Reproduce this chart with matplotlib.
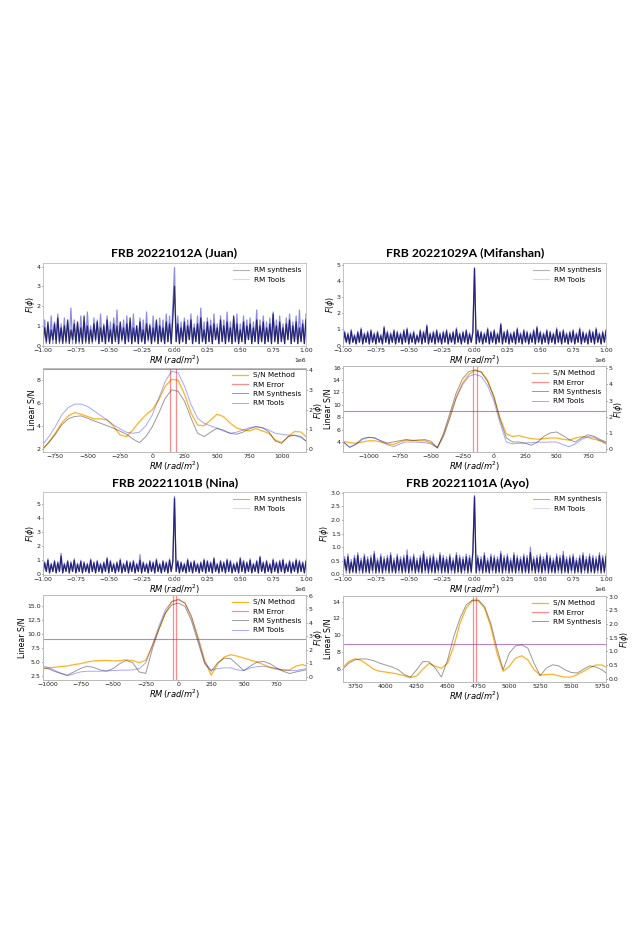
import numpy as np
import matplotlib
matplotlib.use("Agg")
import matplotlib.pyplot as plt

# ---------------- data ----------------
titles = ["FRB 20221012A (Juan)", "FRB 20221029A (Mifanshan)",
          "FRB 20221101B (Nina)", "FRB 20221101A (Ayo)"]

# wide Faraday spectra (RM synthesis / RM Tools), F(phi) across +-1e6 rad/m^2
p1_synth = [0.1,0.9,0.2,1.2,0.1,0.8,0.3,1.1,0.1,1.4,0.2,0.9,0.1,1.0,0.2,1.3,0.1,0.8,0.3,1.1,
            0.1,1.2,0.2,0.9,0.1,1.5,0.2,1.0,0.1,0.8,0.2,1.1,0.3,1.2,0.1,0.9,0.2,1.0,0.1,1.3,
            0.2,0.8,0.1,1.1,0.2,1.0,0.1,1.2,0.3,0.9,0.1,1.1,0.2,1.4,0.1,0.9,0.2,1.0,0.1,1.2,
            0.2,0.8,0.1,1.1,0.3,1.0,0.1,0.9,0.2,1.3,0.1,1.0,0.2,0.9,0.1,1.2,0.2,1.1,0.1,1.4,
            3.0,
            0.2,1.1,0.1,0.9,0.2,1.2,0.1,1.0,0.3,1.3,0.1,0.9,0.2,1.1,0.1,1.4,0.2,0.8,0.1,1.2,
            0.2,1.0,0.1,1.1,0.3,0.9,0.1,1.3,0.2,1.0,0.1,1.2,0.2,0.9,0.1,1.5,0.2,1.1,0.1,0.8,
            0.2,1.2,0.1,1.0,0.3,1.1,0.1,0.9,0.2,1.3,0.1,1.0,0.2,1.2,0.1,0.9,0.2,1.1,0.1,1.6,
            0.2,1.0,0.1,1.2,0.2,0.9,0.1,1.1,0.3,1.3,0.1,1.0,0.2,1.2,0.1,0.9,0.2,1.1,0.1,1.3]
p1_tools = [0.2,1.3,0.1,1.0,0.2,1.5,0.1,1.2,0.3,1.6,0.1,1.1,0.2,1.4,0.1,1.2,0.2,1.9,0.1,1.3,
            0.2,1.1,0.1,1.5,0.2,1.2,0.1,1.7,0.3,1.0,0.1,1.4,0.2,1.3,0.1,1.6,0.2,1.1,0.1,1.5,
            0.2,1.2,0.1,1.4,0.3,1.8,0.1,1.1,0.2,1.3,0.1,1.5,0.2,1.2,0.1,1.6,0.2,1.0,0.1,1.4,
            0.2,1.3,0.1,1.7,0.2,1.1,0.1,1.5,0.3,1.2,0.1,1.4,0.2,1.3,0.1,1.6,0.2,1.5,0.1,2.0,
            3.95,
            0.2,1.5,0.1,1.2,0.2,1.4,0.1,1.3,0.3,1.6,0.1,1.1,0.2,1.5,0.1,1.9,0.2,1.2,0.1,1.4,
            0.2,1.3,0.1,1.6,0.3,1.1,0.1,1.5,0.2,1.3,0.1,1.7,0.2,1.2,0.1,1.4,0.2,1.6,0.1,1.1,
            0.2,1.5,0.1,1.3,0.3,1.4,0.1,1.2,0.2,1.8,0.1,1.3,0.2,1.5,0.1,1.2,0.2,1.4,0.1,1.7,
            0.2,1.3,0.1,1.5,0.2,1.1,0.1,1.4,0.3,1.6,0.1,1.2,0.2,1.5,0.1,1.8,0.2,1.3,0.1,1.6]
p2_synth = [0.1,0.8,0.2,0.7,0.1,0.9,0.2,0.6,0.1,0.8,0.2,1.0,0.1,0.7,0.2,0.8,0.1,0.9,0.2,0.7,
            0.1,0.8,0.2,0.6,0.1,1.1,0.2,0.8,0.1,0.7,0.2,0.9,0.1,0.8,0.2,0.7,0.1,0.9,0.2,1.0,
            0.1,0.7,0.2,0.8,0.1,0.6,0.2,0.9,0.1,0.8,0.2,1.2,0.1,0.7,0.2,0.8,0.1,0.9,0.2,0.7,
            0.1,0.8,0.2,0.9,0.1,0.7,0.2,0.8,0.1,1.0,0.2,0.7,0.1,0.8,0.2,0.9,0.1,0.7,0.2,0.8,
            4.8,
            0.1,0.9,0.2,0.8,0.1,0.7,0.2,1.0,0.1,0.8,0.2,0.9,0.1,0.7,0.2,1.3,0.1,0.8,0.2,0.9,
            0.1,0.7,0.2,0.8,0.1,1.0,0.2,0.7,0.1,0.9,0.2,0.8,0.1,0.7,0.2,0.9,0.1,1.1,0.2,0.8,
            0.1,0.7,0.2,0.9,0.1,0.8,0.2,0.7,0.1,1.0,0.2,0.8,0.1,0.9,0.2,0.7,0.1,0.8,0.2,0.9,
            0.1,0.7,0.2,1.0,0.1,0.8,0.2,0.7,0.1,0.9,0.2,0.8,0.1,1.0,0.2,0.7,0.1,0.8,0.2,0.9]
p2_tools = [0.1,0.9,0.2,0.8,0.1,1.0,0.2,0.7,0.1,0.9,0.2,1.1,0.1,0.8,0.2,0.9,0.1,1.0,0.2,0.8,
            0.1,0.9,0.2,0.7,0.1,1.2,0.2,0.9,0.1,0.8,0.2,1.0,0.1,0.9,0.2,0.8,0.1,1.0,0.2,1.1,
            0.1,0.8,0.2,0.9,0.1,0.7,0.2,1.0,0.1,0.9,0.2,1.3,0.1,0.8,0.2,0.9,0.1,1.0,0.2,0.8,
            0.1,0.9,0.2,1.0,0.1,0.8,0.2,0.9,0.1,1.1,0.2,0.8,0.1,0.9,0.2,1.0,0.1,0.8,0.2,0.9,
            4.85,
            0.1,1.0,0.2,0.9,0.1,0.8,0.2,1.1,0.1,0.9,0.2,1.0,0.1,0.8,0.2,1.4,0.1,0.9,0.2,1.0,
            0.1,0.8,0.2,0.9,0.1,1.1,0.2,0.8,0.1,1.0,0.2,0.9,0.1,0.8,0.2,1.0,0.1,1.2,0.2,0.9,
            0.1,0.8,0.2,1.0,0.1,0.9,0.2,0.8,0.1,1.1,0.2,0.9,0.1,1.0,0.2,0.8,0.1,0.9,0.2,1.0,
            0.1,0.8,0.2,1.1,0.1,0.9,0.2,0.8,0.1,1.0,0.2,0.9,0.1,1.1,0.2,0.8,0.1,0.9,0.2,1.0]
p3_synth = [0.1,0.8,0.2,1.0,0.1,0.7,0.2,0.9,0.1,0.8,0.2,1.3,0.1,0.7,0.2,0.9,0.1,0.8,0.2,1.0,
            0.1,0.7,0.2,0.9,0.1,0.8,0.2,0.7,0.1,1.0,0.2,0.8,0.1,0.9,0.2,0.7,0.1,0.8,0.2,1.1,
            0.1,0.9,0.2,0.7,0.1,0.8,0.2,1.0,0.1,0.7,0.2,0.9,0.1,0.8,0.2,0.9,0.1,0.7,0.2,1.0,
            0.1,0.8,0.2,0.7,0.1,0.9,0.2,0.8,0.1,1.0,0.2,0.7,0.1,0.9,0.2,0.8,0.1,1.0,0.2,0.9,
            5.4,
            0.2,0.9,0.1,0.8,0.2,0.7,0.1,1.0,0.2,0.8,0.1,0.9,0.2,0.7,0.1,0.8,0.2,1.0,0.1,0.9,
            0.2,0.8,0.1,1.1,0.2,0.7,0.1,0.9,0.2,0.8,0.1,1.0,0.2,0.9,0.1,0.7,0.2,0.8,0.1,1.1,
            0.2,0.9,0.1,0.8,0.2,1.0,0.1,0.7,0.2,0.9,0.1,1.2,0.2,0.8,0.1,0.9,0.2,0.7,0.1,1.0,
            0.2,0.8,0.1,0.9,0.2,1.0,0.1,0.7,0.2,0.9,0.1,0.8,0.2,1.0,0.1,0.9,0.2,0.8,0.1,0.9]
p3_tools = [0.1,0.9,0.2,1.1,0.1,0.8,0.2,1.0,0.1,0.9,0.2,1.5,0.1,0.8,0.2,1.0,0.1,0.9,0.2,1.1,
            0.1,0.8,0.2,1.0,0.1,0.9,0.2,0.8,0.1,1.1,0.2,0.9,0.1,1.0,0.2,0.8,0.1,0.9,0.2,1.2,
            0.1,1.0,0.2,0.8,0.1,0.9,0.2,1.1,0.1,0.8,0.2,1.0,0.1,0.9,0.2,1.0,0.1,0.8,0.2,1.4,
            0.1,0.9,0.2,0.8,0.1,1.0,0.2,0.9,0.1,1.1,0.2,0.8,0.1,1.0,0.2,0.9,0.1,1.1,0.2,1.0,
            5.55,
            0.2,1.0,0.1,0.9,0.2,0.8,0.1,1.1,0.2,0.9,0.1,1.0,0.2,0.8,0.1,0.9,0.2,1.1,0.1,1.0,
            0.2,0.9,0.1,1.2,0.2,0.8,0.1,1.0,0.2,0.9,0.1,1.1,0.2,1.0,0.1,0.8,0.2,0.9,0.1,1.2,
            0.2,1.0,0.1,0.9,0.2,1.1,0.1,0.8,0.2,1.0,0.1,1.3,0.2,0.9,0.1,1.0,0.2,0.8,0.1,1.1,
            0.2,0.9,0.1,1.0,0.2,1.1,0.1,0.8,0.2,1.0,0.1,0.9,0.2,1.1,0.1,1.0,0.2,0.9,0.1,1.0]
p4_synth = [0.05,0.55,0.15,0.65,0.05,0.45,0.1,0.6,0.05,0.7,0.15,0.5,0.05,0.65,0.1,0.55,0.05,0.6,0.15,0.75,
            0.05,0.5,0.1,0.65,0.05,0.55,0.15,0.6,0.05,0.7,0.1,0.5,0.05,0.65,0.15,0.55,0.05,0.6,0.1,0.7,
            0.05,0.55,0.15,0.65,0.05,0.5,0.1,0.6,0.05,0.75,0.15,0.55,0.05,0.6,0.1,0.65,0.05,0.5,0.15,0.7,
            0.05,0.6,0.1,0.55,0.05,0.65,0.15,0.5,0.05,0.7,0.1,0.6,0.05,0.55,0.15,0.65,0.05,0.6,0.1,0.8,
            2.85,
            0.05,0.6,0.15,0.55,0.05,0.7,0.1,0.5,0.05,0.65,0.15,0.6,0.05,0.55,0.1,0.75,0.05,0.6,0.15,0.65,
            0.05,0.5,0.1,0.7,0.05,0.6,0.15,0.55,0.05,0.65,0.1,0.6,0.05,0.8,0.15,0.55,0.05,0.6,0.1,0.65,
            0.05,0.55,0.15,0.7,0.05,0.6,0.1,0.5,0.05,0.65,0.15,0.6,0.05,0.7,0.1,0.55,0.05,0.6,0.15,0.65,
            0.05,0.5,0.1,0.6,0.05,0.7,0.15,0.55,0.05,0.65,0.1,0.6,0.05,0.55,0.15,0.7,0.05,0.6,0.1,0.65]
p4_tools = [0.1,0.65,0.05,0.75,0.15,0.55,0.05,0.7,0.1,0.8,0.05,0.6,0.15,0.75,0.05,0.65,0.1,0.7,0.05,0.85,
            0.15,0.6,0.05,0.75,0.1,0.65,0.05,0.7,0.15,0.8,0.05,0.6,0.1,0.75,0.05,0.65,0.15,0.7,0.05,0.9,
            0.1,0.65,0.05,0.75,0.15,0.6,0.05,0.7,0.1,0.85,0.05,0.65,0.15,0.7,0.05,0.75,0.1,0.6,0.05,0.8,
            0.15,0.7,0.05,0.65,0.1,0.75,0.05,0.6,0.15,0.8,0.05,0.7,0.1,0.65,0.05,0.75,0.15,0.7,0.05,0.9,
            2.9,
            0.1,0.7,0.05,0.65,0.15,0.8,0.05,0.6,0.1,0.75,0.05,0.7,0.15,0.65,0.05,0.85,0.1,0.7,0.05,0.75,
            0.15,0.6,0.05,0.8,0.1,0.7,0.05,0.65,0.15,0.75,0.05,0.7,0.1,1.0,0.05,0.65,0.15,0.7,0.05,0.75,
            0.1,0.65,0.05,0.8,0.15,0.7,0.05,0.6,0.1,0.75,0.05,0.7,0.15,0.85,0.05,0.65,0.1,0.7,0.05,0.75,
            0.15,0.6,0.05,0.7,0.1,0.8,0.05,0.65,0.15,0.75,0.05,0.7,0.1,0.65,0.05,0.8,0.15,0.7,0.05,0.75]

# zoomed panels: RM grid, linear S/N, RM synthesis F, RM Tools F, RM error bounds
rm1 = [-845,-800,-750,-700,-650,-600,-550,-500,-450,-400,-350,-300,-250,-200,-150,-100,-50,0,
       50,100,150,200,250,300,350,400,450,500,550,600,650,700,750,800,850,900,950,1000,1050,1100,1150,1188]
sn1 = [2.0,2.6,3.4,4.3,4.9,5.2,5.05,4.85,4.65,4.65,4.55,4.0,3.25,3.1,3.7,4.4,5.0,5.45,6.3,7.5,8.1,8.0,
       6.75,5.15,4.1,4.05,4.55,5.05,4.85,4.3,3.85,3.7,3.6,3.8,3.6,3.4,2.8,2.6,3.1,3.55,3.5,3.1]
syn1 = [0.05,0.35,0.75,1.23,1.53,1.65,1.68,1.56,1.43,1.31,1.19,1.06,0.92,0.76,0.52,0.34,0.64,1.14,1.82,
        2.57,2.99,2.91,2.40,1.56,0.81,0.64,0.86,1.06,0.97,0.81,0.76,0.86,1.03,1.14,1.09,0.89,0.42,0.30,
        0.64,0.72,0.64,0.42]
tol1 = [0.25,0.64,1.14,1.73,2.10,2.27,2.27,2.15,1.93,1.70,1.48,1.23,1.03,0.86,0.81,0.86,1.19,1.73,2.57,
        3.41,3.92,3.83,3.16,2.24,1.56,1.31,1.18,1.06,0.92,0.81,0.86,0.97,1.09,1.14,1.09,0.97,0.81,0.76,
        0.72,0.69,0.59,0.42]
err1 = [138, 182]

rm2 = [-1200,-1150,-1100,-1050,-1000,-950,-900,-850,-800,-750,-700,-650,-600,-550,-500,-450,-400,-350,
       -300,-250,-200,-150,-100,-50,0,50,100,150,200,250,300,350,400,450,500,550,600,650,700,750,800,850,895]
sn2 = [4.1,3.9,3.8,4.0,4.2,4.2,4.0,3.7,3.6,4.0,4.3,4.3,4.2,4.2,3.85,3.05,5.2,8.1,11.2,13.5,14.9,15.55,
       15.35,14.0,11.35,7.85,5.3,4.9,5.05,4.75,4.55,4.45,4.55,4.65,4.65,4.45,4.3,4.65,4.85,4.75,4.45,4.2,3.85]
syn2 = [0.43,0.10,0.31,0.64,0.72,0.68,0.51,0.37,0.43,0.51,0.58,0.51,0.56,0.58,0.47,0.06,0.99,2.22,3.46,
        4.34,4.79,4.90,4.75,4.18,3.25,1.81,0.68,0.43,0.43,0.35,0.23,0.43,0.78,0.99,1.05,0.84,0.58,0.43,
        0.68,0.88,0.78,0.58,0.43]
tol2 = [0.43,0.10,0.27,0.58,0.72,0.68,0.47,0.27,0.14,0.31,0.43,0.43,0.41,0.39,0.31,0.10,0.78,1.91,3.15,
        3.97,4.49,4.63,4.49,3.93,2.98,1.60,0.43,0.31,0.35,0.37,0.39,0.43,0.41,0.43,0.43,0.27,0.14,0.31,
        0.58,0.76,0.72,0.51,0.31]
err2 = [-167, -138]

rm3 = [-1036,-1000,-950,-900,-850,-800,-750,-700,-650,-600,-550,-500,-450,-400,-350,-300,-250,-200,
       -150,-100,-50,0,50,100,150,200,250,300,350,400,450,500,550,600,650,700,750,800,850,900,950,975]
sn3 = [3.8,3.9,4.0,4.15,4.25,4.5,4.65,4.95,5.15,5.2,5.25,5.15,5.2,5.35,5.2,4.85,5.25,7.9,10.8,13.7,
       15.75,16.15,15.45,12.85,9.35,5.25,2.6,4.65,5.85,6.25,6.0,5.65,5.3,4.95,4.5,4.0,3.65,3.5,3.55,
       4.25,4.5,4.25]
syn3 = [0.66,0.61,0.41,0.24,0.12,0.36,0.61,0.78,0.70,0.51,0.41,0.61,0.97,1.21,1.04,0.35,0.25,2.06,3.52,
        4.74,5.34,5.47,5.22,4.13,2.55,0.97,0.41,1.04,1.38,1.34,0.90,0.46,0.80,1.09,1.14,0.97,0.66,0.41,
        0.24,0.36,0.46,0.51]
tol3 = [0.80,0.70,0.49,0.27,0.07,0.22,0.36,0.41,0.41,0.41,0.44,0.46,0.49,0.49,0.51,0.61,1.04,2.31,3.76,
        4.98,5.59,5.71,5.47,4.49,2.79,1.09,0.49,0.61,0.66,0.66,0.51,0.46,0.66,0.75,0.78,0.70,0.61,0.51,
        0.46,0.46,0.56,0.61]
err3 = [-43, -20]

rm4 = [3653,3700,3750,3800,3850,3900,3950,4000,4050,4100,4150,4200,4250,4300,4350,4400,4450,4500,4550,
       4600,4650,4700,4750,4800,4850,4900,4950,5000,5050,5100,5150,5200,5250,5300,5350,5400,5450,5500,
       5550,5600,5650,5700,5750,5783]
sn4 = [6.2,6.85,7.2,7.0,6.5,5.95,5.7,5.6,5.5,5.35,5.15,4.95,5.15,5.95,6.65,6.3,6.05,6.65,8.65,11.4,
       13.2,14.1,14.1,13.2,11.0,7.85,5.7,6.3,7.25,7.55,7.05,5.9,5.25,5.3,5.35,5.15,5.0,5.0,5.3,5.7,
       6.1,6.45,6.45,6.2]
syn4 = [0.36,0.57,0.69,0.73,0.72,0.66,0.57,0.50,0.43,0.33,0.15,0.06,0.33,0.63,0.62,0.39,0.06,0.69,1.54,
        2.21,2.70,2.88,2.88,2.64,2.03,1.12,0.33,0.94,1.20,1.24,1.12,0.57,0.11,0.39,0.51,0.47,0.33,0.23,
        0.21,0.35,0.47,0.43,0.33,0.21]
err4 = [4707, 4731]

sn_threshold = 9

# ---------------- figure ----------------
W, H = 640, 934
fig = plt.figure(figsize=(W / 100, H / 100), dpi=100)
plt.rcParams['mathtext.fontset'] = 'dejavusans'

TICK = 4.5
LAB = 5.7
LEG = 5.2
SPINE = '#bbbbbb'
XL_Y = -0.085


def box(x0, y0, x1, y1):
    return [x0 / W, 1 - y1 / H, (x1 - x0) / W, (y1 - y0) / H]


def style(ax):
    for s in ax.spines.values():
        s.set_color(SPINE)
        s.set_linewidth(0.6)
    ax.tick_params(labelsize=TICK, length=1.0, width=0.5, pad=0.7, colors='#222222')
    ax.xaxis.offsetText.set_fontsize(TICK)


def wide_panel(rect, synth, tools, ylim, yticks):
    ax = fig.add_axes(rect)
    rmw = np.linspace(-1e6, 1e6, len(synth))
    ax.plot(rmw, synth, color='black', alpha=0.75, lw=0.9, label='RM synthesis')
    ax.plot(rmw, tools, color='#0000cc', alpha=0.45, lw=0.9, label='RM Tools')
    ax.set_xlim(-1e6, 1e6)
    ax.set_ylim(*ylim)
    ax.set_yticks(yticks)
    style(ax)
    ax.set_xlabel(r'$RM\,(rad/m^2)$', fontsize=LAB + 0.3)
    ax.set_ylabel(r'$F(\phi)$', fontsize=LAB, labelpad=0)
    ax.xaxis.set_label_coords(0.5, XL_Y - 0.005)
    leg = ax.legend(loc='upper right', frameon=False, fontsize=LEG, handlelength=2.2,
                    borderaxespad=0.2, labelspacing=0.45)
    for h, a in zip(leg.legend_handles, [0.3, 0.15]):
        h.set_alpha(a)
        h.set_linewidth(0.8)
    return ax


def zoom_panel(rect, rm, sn, syn, tol, err, xlim, ylim, ylim2, yt, yt2, has_tools=True):
    ax = fig.add_axes(rect)
    ax.plot(rm, sn, color='orange', lw=0.9, alpha=0.85, label='S/N Method')
    ax.axvline(err[0], color='red', alpha=0.45, lw=0.9, label='RM Error')
    ax.axvline(err[1], color='red', alpha=0.45, lw=0.9)
    ax.axhline(sn_threshold, color='#9933aa', alpha=0.6, lw=0.8)
    ax.set_xlim(*xlim)
    ax.set_ylim(*ylim)
    ax.set_yticks(yt)
    style(ax)
    ax.set_xlabel(r'$RM\,(rad/m^2)$', fontsize=LAB + 0.3)
    ax.set_ylabel('Linear S/N', fontsize=LAB, labelpad=0)
    ax.xaxis.set_label_coords(0.5, XL_Y)
    ax2 = ax.twinx()
    ax2.plot(rm, syn, color='black', alpha=0.4, lw=0.7, label='RM Synthesis')
    if has_tools:
        ax2.plot(rm, tol, color='blue', alpha=0.35, lw=0.7, label='RM Tools')
    ax2.set_ylim(*ylim2)
    ax2.set_yticks(yt2)
    style(ax2)
    ax2.set_ylabel(r'$F(\phi)$', fontsize=LAB, labelpad=0)
    h1, l1 = ax.get_legend_handles_labels()
    h2, l2 = ax2.get_legend_handles_labels()
    ax2.legend(h1 + h2, l1 + l2, loc='upper right', frameon=False, fontsize=LEG,
               handlelength=2.2, borderaxespad=0.2, labelspacing=0.45)
    return ax, ax2


LX0, LX1 = 43, 306
RX0, RX1 = 343, 606

wide_panel(box(LX0, 263, LX1, 346), p1_synth, p1_tools, (-0.02, 4.18), [0, 1, 2, 3, 4])
wide_panel(box(RX0, 263, RX1, 346), p2_synth, p2_tools, (-0.03, 5.14), [0, 1, 2, 3, 4, 5])
wide_panel(box(LX0, 492, LX1, 575), p3_synth, p3_tools, (-0.05, 5.86), [0, 1, 2, 3, 4, 5])
wide_panel(box(RX0, 492, RX1, 575), p4_synth, p4_tools, (-0.02, 3.03),
           [0.0, 0.5, 1.0, 1.5, 2.0, 2.5, 3.0])

zoom_panel(box(LX0, 368, LX1, 452), rm1, sn1, syn1, tol1, err1, (-845, 1188), (1.76, 9.08),
           (-0.13, 4.08), [2, 4, 6, 8], [0, 1, 2, 3, 4])
zoom_panel(box(RX0, 366, RX1, 452), rm2, sn2, syn2, tol2, err2, (-1203, 895), (2.39, 16.27),
           (-0.19, 5.14), [4, 6, 8, 10, 12, 14, 16], [0, 1, 2, 3, 4, 5])
zoom_panel(box(LX0, 595, LX1, 680), rm3, sn3, syn3, tol3, err3, (-1036, 975), (1.75, 16.9),
           (-0.24, 6.07), [2.5, 5.0, 7.5, 10.0, 12.5, 15.0], [0, 1, 2, 3, 4, 5, 6])
zoom_panel(box(RX0, 596, RX1, 682), rm4, sn4, syn4, None, err4, (3653, 5783), (4.42, 14.67),
           (-0.12, 3.03), [6, 8, 10, 12, 14], [0.0, 0.5, 1.0, 1.5, 2.0, 2.5, 3.0], has_tools=False)

title_pos = [(174, 253), (465, 253), (175, 483), (468, 483)]
for t, (x, y) in zip(titles, title_pos):
    fig.text(x / W, 1 - y / H, t, ha='center', va='center', fontsize=8.8,
             fontweight='bold', family=['Lato', 'DejaVu Sans'])

fig.savefig('out.png', dpi=100, facecolor='white')
